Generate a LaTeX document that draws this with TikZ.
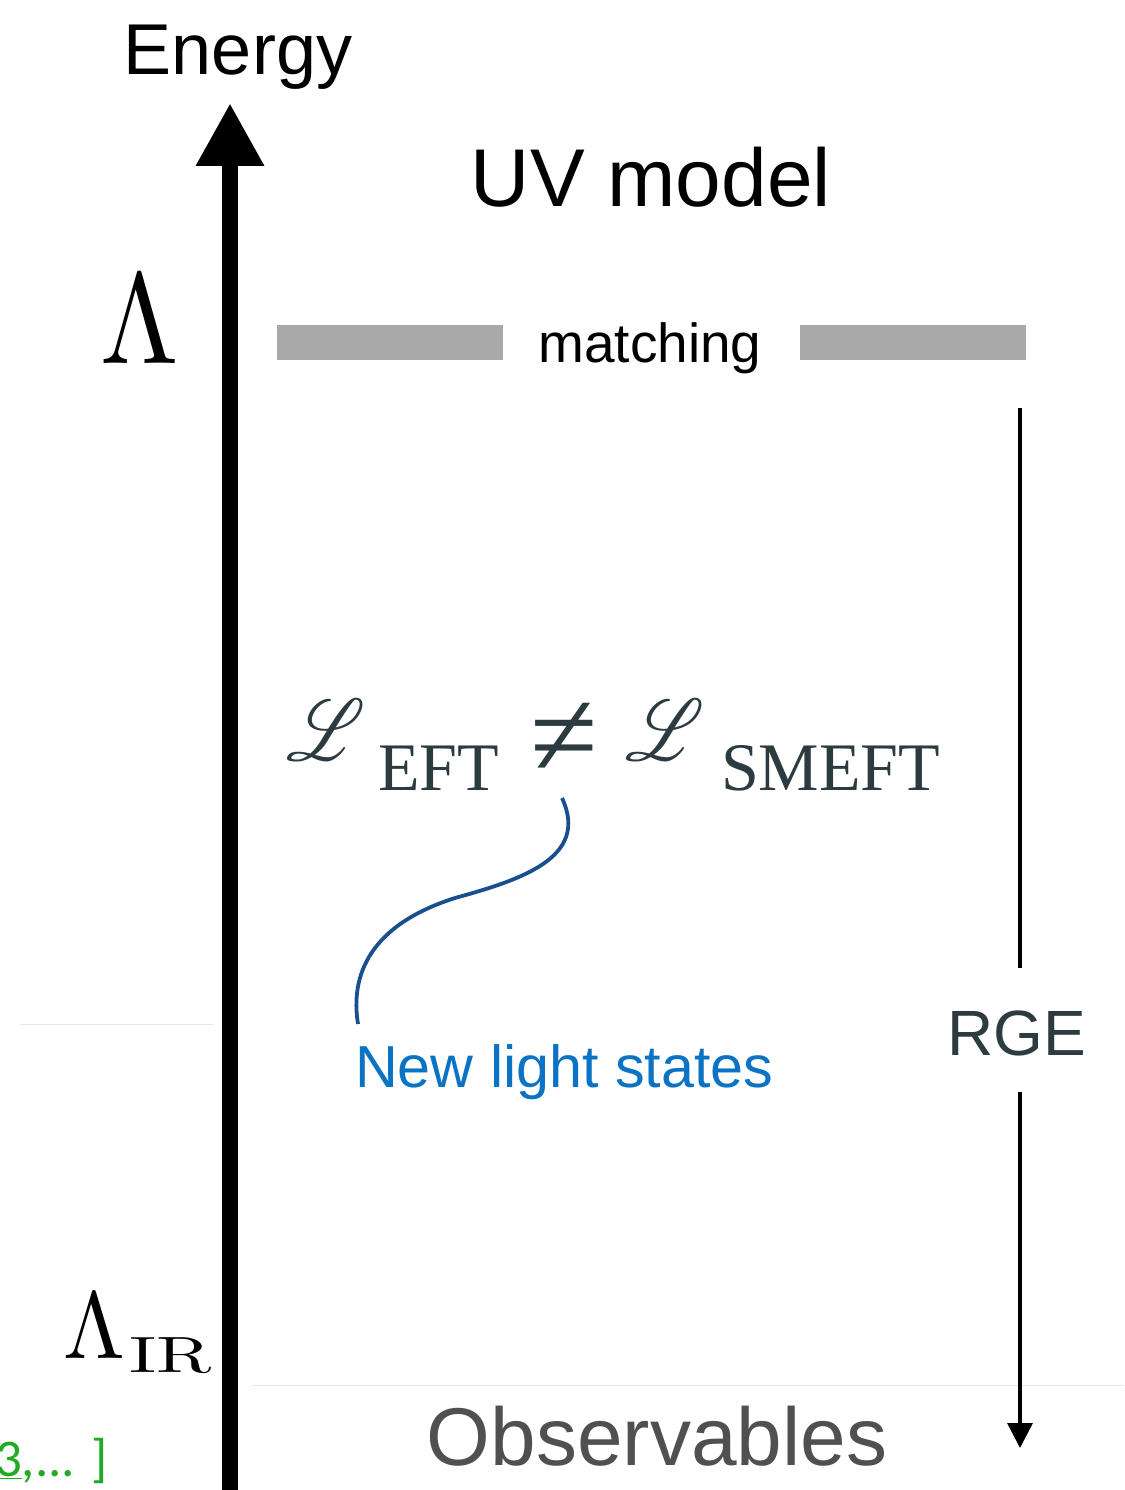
\RequirePackage{fix-cm}
\documentclass[tikz,border=0pt]{standalone}
\usepackage{fontspec}
\usepackage{mathrsfs}
\usepackage{graphicx}
\setsansfont{Liberation Sans}
\newfontfamily\serifsub{Liberation Serif}
\newfontfamily\calib{Carlito}
\usetikzlibrary{arrows.meta}
\definecolor{bargray}{HTML}{A9A9A9}
\definecolor{formula}{HTML}{2B3B40}
\definecolor{curveblue}{HTML}{1A4F8F}
\definecolor{textblue}{HTML}{0A73C4}
\definecolor{obsgray}{HTML}{505050}
\definecolor{refgreen}{HTML}{22AA22}
\definecolor{faint}{HTML}{E6E6E6}
\tikzset{
  bar/.style={fill=bargray, draw=none, minimum width=226pt, minimum height=35pt, inner sep=0pt},
  faintline/.style={draw=faint, line width=1pt},
  txt/.style={inner sep=0pt, outer sep=0pt},
}
\begin{document}
\begin{tikzpicture}[x=1pt,y=-1pt]
\useasboundingbox (0,0) rectangle (1124,1490);
% faint rules
\coordinate (f1a) at (20,1024); \coordinate (f1b) at (213,1024);
\coordinate (f2a) at (252,1385); \coordinate (f2b) at (1124,1385);
\draw[faintline] (f1a) -- (f1b);
\draw[faintline] (f2a) -- (f2b);
% energy axis
\coordinate (axbot) at (230,1500);
\coordinate (axtop) at (230,103);
\draw[line width=16pt, -{Triangle[length=63pt,width=64pt]}] (axbot) -- (axtop);
\node[txt, anchor=base] (energy) at (238,75) {\fontsize{72}{80}\selectfont\sffamily Energy};
% UV model
\node[txt, anchor=base] (uv) at (651,207) {\fontsize{82}{90}\selectfont\sffamily UV model};
% Lambda
\node[txt, anchor=base] (lam) at (140,363) {\scalebox{11.3}[12.9]{$\Lambda$}};
% matching
\node[bar] (barL) at (390,342.5) {};
\node[bar] (barR) at (912.5,342.5) {};
\node[txt, anchor=base] (match) at (650,362) {\fontsize{55}{60}\selectfont\sffamily matching};
% formula
\node[txt, anchor=base west, text=formula] (L1) at (286,760) {\scalebox{7.4}[8.7]{$\mathscr{L}$}};
\node[txt, anchor=base west, text=formula] (eft) at (378,790) {\fontsize{68}{70}\selectfont\serifsub EFT};
\node[txt, text=formula] (neq) at (564,740) {\fontsize{123}{123}\selectfont\serifsub ≠};
\node[txt, anchor=base west, text=formula] (L2) at (625,760) {\scalebox{7.4}[8.7]{$\mathscr{L}$}};
\node[txt, anchor=base west, text=formula] (smeft) at (721,790) {\fontsize{68}{70}\selectfont\serifsub SMEFT};
% blue curve
\coordinate (cvA) at (562,798);
\coordinate (cvM) at (455,898);
\coordinate (cvB) at (358,1024);
\draw[curveblue, line width=3.8pt] (cvA) .. controls (590,858) and (520,880) .. (cvM) .. controls (370,925) and (350,975) .. (cvB);
\node[txt, anchor=base west, text=textblue] (nls) at (355,1087) {\fontsize{59.3}{66}\selectfont\sffamily New light states};
% RGE
\coordinate (rgetop) at (1020,408);
\coordinate (rgeA) at (1020,968);
\coordinate (rgeB) at (1020,1092);
\coordinate (rgeend) at (1020,1448);
\node[txt, anchor=base, text=formula] (rge) at (1017,1055) {\fontsize{64}{70}\selectfont\sffamily RGE};
\draw[line width=3.5pt] (rgetop) -- (rgeA);
\draw[line width=3.5pt, -{Triangle[length=25pt,width=25pt]}] (rgeB) -- (rgeend);
% Lambda IR
\node[txt, anchor=base west] (lamir) at (63,1358) {\scalebox{8.9}[9.5]{$\Lambda$}};
\node[txt, anchor=base west] (ir) at (129,1372) {\scalebox{7.5}[5.1]{$\mathrm{IR}$}};
% observables
\node[txt, anchor=base, text=obsgray] (obs) at (657,1465) {\fontsize{82}{90}\selectfont\sffamily Observables};
% references
\node[txt, anchor=base west, text=refgreen] (refs) at (-5,1476) {\fontsize{53}{60}\selectfont\calib\underline{3},... ]};
\end{tikzpicture}
\end{document}
